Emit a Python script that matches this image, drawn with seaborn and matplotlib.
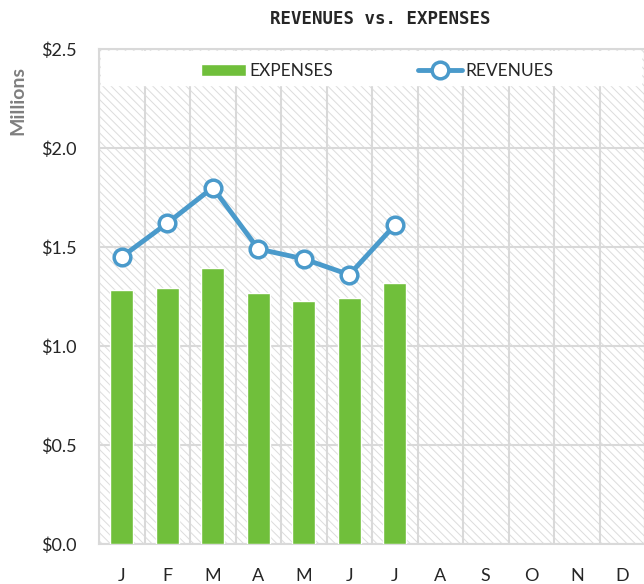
import seaborn as sns
import pandas as pd
import matplotlib.pyplot as plt
from matplotlib.patches import Rectangle
from matplotlib.ticker import FuncFormatter, MultipleLocator, FixedLocator

months = ['Jan', 'Feb', 'Mar', 'Apr', 'May', 'Jun', 'Jul', 'Aug', 'Sep', 'Oct', 'Nov', 'Dec']
month_labels = ['J', 'F', 'M', 'A', 'M', 'J', 'J', 'A', 'S', 'O', 'N', 'D']
expenses = [1.285, 1.295, 1.395, 1.27, 1.225, 1.24, 1.32]
revenues = [1.45, 1.62, 1.80, 1.49, 1.44, 1.36, 1.61]

sns.set_style('white')
plt.rcParams['font.family'] = ['Lato', 'DejaVu Sans']
plt.rcParams['hatch.color'] = '#dcdcdc'
plt.rcParams['hatch.linewidth'] = 0.7

grid_col = '#d9d9d9'
bar_col = '#70bf3b'
line_col = '#4a9acb'

fig = plt.figure(figsize=(6.44, 5.84), dpi=100)
ax = fig.add_axes([99 / 644, 40 / 584, 546 / 644, 495 / 584])

exp_df = pd.DataFrame({'month': months[:len(expenses)], 'value': expenses})
rev_df = pd.DataFrame({'pos': range(len(revenues)), 'value': revenues})

##hatched background
ax.add_patch(Rectangle((0, 0), 1, 1, transform=ax.transAxes, facecolor='white',
                       edgecolor='#dcdcdc', hatch='\\\\\\\\', linewidth=0, zorder=0))

sns.barplot(x='month', y='value', data=exp_df, order=months, color=bar_col,
            width=0.5, saturation=1, label='EXPENSES', ax=ax, zorder=3)
sns.lineplot(x='pos', y='value', data=rev_df, color=line_col, linewidth=3.5,
             marker='o', markersize=12, markerfacecolor='white',
             markeredgecolor=line_col, markeredgewidth=2.5, label='REVENUES',
             ax=ax, zorder=4)

ax.set_xlim(-0.5, 11.5)
ax.set_ylim(0, 2.5)

##white band behind legend
ax.axhspan(2.32, 2.49, xmin=0.004, xmax=0.993, color='white', zorder=2)

ax.xaxis.set_major_locator(FixedLocator(range(12)))
ax.set_xticklabels(month_labels)
ax.xaxis.set_minor_locator(FixedLocator([i - 0.5 for i in range(13)]))
ax.yaxis.set_major_locator(MultipleLocator(0.5))
ax.yaxis.set_major_formatter(FuncFormatter(lambda v, p: f'${v:.1f}'))
ax.grid(which='minor', axis='x', color=grid_col, linewidth=1.5, zorder=1)
ax.grid(which='major', axis='y', color=grid_col, linewidth=1.5, zorder=1)
ax.grid(which='major', axis='x', visible=False)
ax.set_axisbelow(True)
ax.tick_params(which='both', length=0, labelsize=13, colors='#262626')
ax.tick_params(axis='x', pad=17)
ax.tick_params(axis='y', pad=16)

for s in ax.spines.values():
    s.set_color(grid_col)
    s.set_linewidth(1.5)

ax.set_xlabel('')
ax.set_ylabel('Millions', fontsize=14, fontweight='bold', color='#7f7f7f')
ax.yaxis.set_label_coords(-0.133, 0.895)

handles, labels = ax.get_legend_handles_labels()
order = [labels.index('EXPENSES'), labels.index('REVENUES')]
leg = ax.legend([handles[i] for i in order], [labels[i] for i in order],
                loc='center', bbox_to_anchor=(0.51, 0.955),
                ncol=2, frameon=False, fontsize=12.5, handlelength=2.55,
                handletextpad=0.2, columnspacing=4.9)
leg.set_zorder(5)

fig.text(0.59, 0.968, 'REVENUES vs. EXPENSES', ha='center', va='center',
         fontsize=12.5, fontweight='bold', family='DejaVu Sans Mono')

plt.savefig('out.png', dpi=100)
